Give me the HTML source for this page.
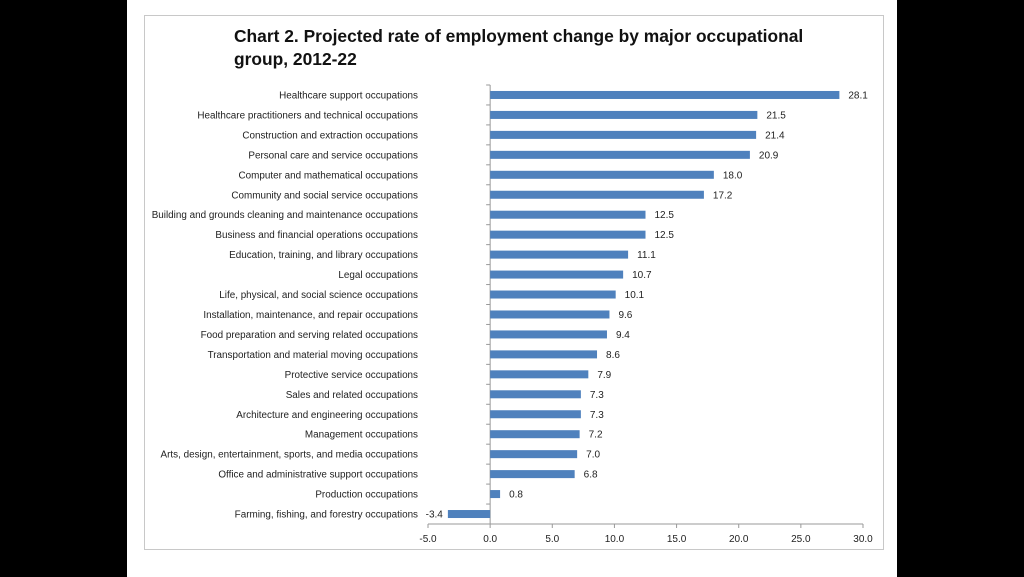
<!DOCTYPE html>
<html><head><meta charset="utf-8"><style>
body{margin:0;background:#000;width:1024px;height:577px;overflow:hidden;font-family:"Liberation Sans",sans-serif}
#page{position:absolute;left:127px;top:0;width:770px;height:577px;background:#fff}
#frame{position:absolute;left:144px;top:15px;width:740px;height:535px;border:1px solid #c8c8c8;box-sizing:border-box}
#title{position:absolute;left:234px;top:25px;font-size:17.4px;font-weight:bold;color:#111;line-height:23px}
svg{position:absolute;left:0;top:0}
</style></head><body>
<div id="page"></div>
<div id="frame"></div>
<div id="title">Chart 2. Projected rate of employment change by major occupational<br>group, 2012-22</div>
<svg id="chart" width="1024" height="577"></svg>
<script>
const categories=["Healthcare support occupations","Healthcare practitioners and technical occupations","Construction and extraction occupations","Personal care and service occupations","Computer and mathematical occupations","Community and social service occupations","Building and grounds cleaning and maintenance occupations","Business and financial operations occupations","Education, training, and library occupations","Legal occupations","Life, physical, and social science occupations","Installation, maintenance, and repair occupations","Food preparation and serving related occupations","Transportation and material moving occupations","Protective service occupations","Sales and related occupations","Architecture and engineering occupations","Management occupations","Arts, design, entertainment, sports, and media occupations","Office and administrative support occupations","Production occupations","Farming, fishing, and forestry occupations"];
const values=[28.1,21.5,21.4,20.9,18.0,17.2,12.5,12.5,11.1,10.7,10.1,9.6,9.4,8.6,7.9,7.3,7.3,7.2,7.0,6.8,0.8,-3.4];
const ticks=[-5,0,5,10,15,20,25,30];
const NS="http://www.w3.org/2000/svg";
const svg=document.getElementById('chart');
const x0=428,x1=863,vmin=-5,vmax=30,plotTop=85,plotBottom=524;
const xs=v=>x0+(v-vmin)/(vmax-vmin)*(x1-x0);
const step=(plotBottom-plotTop)/categories.length;
const yc=i=>plotTop+step*(i+0.5);
function mk(t,a){const e=document.createElementNS(NS,t);for(const k in a)e.setAttribute(k,a[k]);svg.appendChild(e);return e;}
let ax=mk('line',{x1:x0,x2:x1,y1:plotBottom,y2:plotBottom,stroke:'#999','stroke-width':1});


let ay=mk('line',{x1:xs(0),x2:xs(0),y1:plotTop,y2:plotBottom,stroke:'#999','stroke-width':1});


for(let i=0;i<=categories.length;i++){const y=plotTop+step*i;mk('line',{x1:xs(0)-4,x2:xs(0),y1:y,y2:y,stroke:'#999'});}
ticks.forEach(t=>{
 mk('line',{x1:xs(t),x2:xs(t),y1:plotBottom,y2:plotBottom+4,stroke:'#999'});
 const tx=mk('text',{x:xs(t),y:plotBottom+18,'text-anchor':'middle','font-size':10,fill:'#222'});
 tx.textContent=t.toFixed(1);
 
 
});
categories.forEach((c,i)=>{
 const v=values[i],y=yc(i);
 const a=Math.min(xs(0),xs(v)),w=Math.abs(xs(v)-xs(0));
 const r=mk('rect',{x:a,y:y-4,width:w,height:8,fill:'#4f81bd'});
 
 
 const lb=mk('text',{x:418,y:y+3.5,'text-anchor':'end','font-size':9.9,fill:'#222'});
 lb.textContent=c;
 
 
 const vl=mk('text',{x:v>=0?xs(v)+9:xs(v)-5,y:y+3.5,'text-anchor':v>=0?'start':'end','font-size':10,fill:'#222'});
 vl.textContent=v.toFixed(1);
 
 
});
</script>
</body></html>
